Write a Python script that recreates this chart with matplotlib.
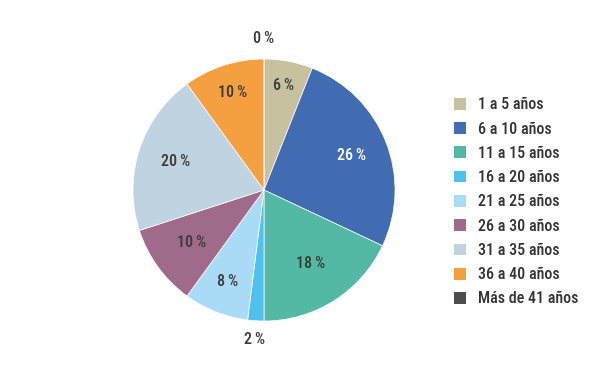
import numpy as np
import matplotlib
matplotlib.use('Agg')
import matplotlib.pyplot as plt
from matplotlib.patches import Patch
from matplotlib import font_manager

# datos
categorias = ['1 a 5 años', '6 a 10 años', '11 a 15 años', '16 a 20 años',
              '21 a 25 años', '26 a 30 años', '31 a 35 años', '36 a 40 años',
              'Más de 41 años']
porcentajes = [6, 26, 18, 2, 8, 10, 20, 10, 0]
colores = ['#C8C1A0', '#416CB1', '#53B9A4', '#4FC1EE', '#A9DBF6',
           '#A06A8A', '#BFD3E0', '#F5A040', '#4D4D4D']

# fuente estrecha si existe
nombres = set(f.name for f in font_manager.fontManager.ttflist)
fam = 'DejaVu Sans'
for cand in ['Liberation Sans Narrow', 'Arial Narrow', 'Roboto Condensed',
             'Archivo Narrow', 'PT Sans Narrow', 'Pragati Narrow', 'Encode Sans Condensed']:
    if cand in nombres:
        fam = cand
        break
plt.rcParams['font.family'] = [fam, 'DejaVu Sans']
plt.rcParams['font.weight'] = 'medium'

fig = plt.figure(figsize=(6, 3.74), dpi=100)
ax = fig.add_axes([133/600, 53/374, 262/600, 262/374])

wedges, _ = ax.pie(porcentajes, colors=colores, startangle=90, counterclock=False,
                   radius=1, wedgeprops=dict(linewidth=0.5, edgecolor='white'))
ax.set_xlim(-1, 1)
ax.set_ylim(-1, 1)
ax.axis('off')

# distancias de etiqueta (relativas al radio)
dist = [0.81, 0.72, 0.66, 1.14, 0.75, 0.68, 0.71, 0.78, 1.16]
text_col = ['#3a3a3a', 'white', '#3a3a3a', '#3a3a3a', '#3a3a3a',
            '#3a3a3a', '#3a3a3a', '#3a3a3a', '#3a3a3a']
for w, p, d, c in zip(wedges, porcentajes, dist, text_col):
    ang = np.deg2rad((w.theta1 + w.theta2) / 2)
    ax.text(d * np.cos(ang), d * np.sin(ang), f'{p}\u2009%', ha='center', va='center',
            fontsize=11.5, color=c, clip_on=False)

handles = [Patch(facecolor=c, edgecolor='none') for c in colores]
fig.legend(handles, categorias, loc='upper left', bbox_to_anchor=(440/600, 1 - 83/374),
           frameon=False, fontsize=11.5, handlelength=0.75, handleheight=0.75,
           handletextpad=0.75, labelspacing=0.58, labelcolor='#333333')

fig.savefig('out.png', dpi=100)
